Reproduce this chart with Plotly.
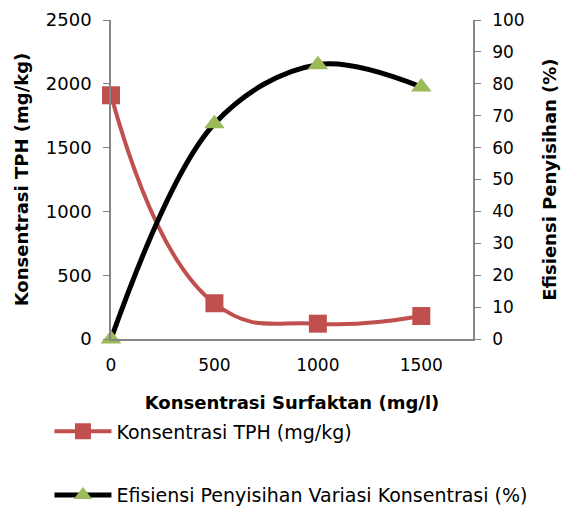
import plotly.graph_objects as go

x_vals = [0, 500, 1000, 1500]
tph = [1910, 280, 120, 180]
eff = [0, 67.5, 86, 79]

font = "DejaVu Sans"
axis_col = "#868686"

fig = go.Figure()
fig.add_trace(go.Scatter(
    x=x_vals, y=tph, name="Konsentrasi TPH (mg/kg)", mode="lines+markers",
    line=dict(color="#C0504D", width=4, shape="spline", smoothing=1.3),
    marker=dict(symbol="square", size=18, color="#C0504D"),
    legendgroup="a", cliponaxis=False))
fig.add_trace(go.Scatter(
    x=x_vals, y=eff, name="Efisiensi Penyisihan Variasi Konsentrasi (%)", mode="lines+markers",
    line=dict(color="#000000", width=5, shape="spline", smoothing=1.0),
    marker=dict(symbol="triangle-up", size=18, color="#9BBB59"),
    yaxis="y2", legendgroup="b", cliponaxis=False))

fig.update_layout(
    width=566, height=508,
    margin=dict(l=111, r=93, t=20, b=169, autoexpand=False),
    paper_bgcolor="white", plot_bgcolor="white",
    font=dict(family=font, size=17, color="black"),
    xaxis=dict(range=[0, 1750], tickvals=[0, 500, 1000, 1500], showgrid=False, zeroline=False,
               showline=True, linecolor=axis_col, linewidth=1.5, ticks="", ticklen=0,
               ticklabelstandoff=10, automargin=False,
               title=dict(text="<b>Konsentrasi Surfaktan (mg/l)</b>", font=dict(size=18), standoff=22)),
    yaxis=dict(range=[0, 2500], dtick=500, showgrid=False, zeroline=False,
               showline=True, linecolor=axis_col, linewidth=1.5, ticks="outside", ticklen=6,
               tickcolor=axis_col, ticklabelstandoff=8, automargin=False, tickfont=dict(size=18),
               title=dict(text="<b>Konsentrasi TPH (mg/kg)</b>", font=dict(size=18), standoff=13)),
    yaxis2=dict(range=[0, 100], dtick=10, overlaying="y", side="right", showgrid=False, zeroline=False,
                showline=True, linecolor=axis_col, linewidth=1.5, ticks="outside", ticklen=6,
                tickcolor=axis_col, ticklabelstandoff=8, automargin=False,
                title=dict(text="<b>Efisiensi Penyisihan (%)</b>", font=dict(size=18), standoff=20)),
    legend=dict(x=-0.17, xanchor="left", y=-0.23, yanchor="top", orientation="v",
                tracegroupgap=36, itemwidth=57, font=dict(size=19), bgcolor="rgba(0,0,0,0)"),
    showlegend=True,
)

fig.write_html("out.html", config={"displayModeBar": False},
               post_script="document.body.style.margin='0';document.body.style.padding='0';")
